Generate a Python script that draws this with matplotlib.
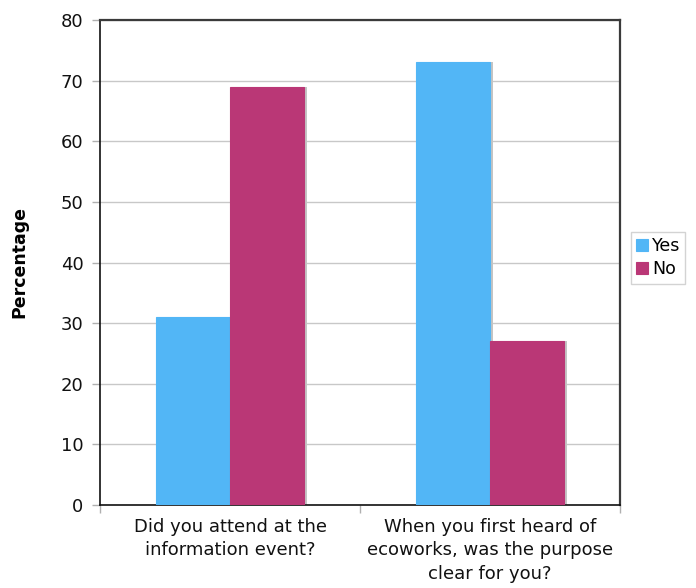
import matplotlib
matplotlib.use("Agg")
import matplotlib.pyplot as plt
import numpy as np
from matplotlib.patches import Rectangle
from matplotlib.transforms import offset_copy

categories = ["Did you attend at the\ninformation event?",
              "When you first heard of\necoworks, was the purpose\nclear for you?"]
series_names = ["Yes", "No"]
yes_values = [31, 73]
no_values = [69, 27]
y_ticks = [0, 10, 20, 30, 40, 50, 60, 70, 80]

colors = ["#52B6F6", "#BA3776"]

fig = plt.figure(figsize=(6.96, 5.88), dpi=100)
ax = fig.add_axes([100 / 696, 1 - 505 / 588, 520 / 696, 485 / 588])

x = np.arange(len(categories))
bw = 0.285
offsets = [-bw / 2, bw / 2]
handles = []
for vals, off, col, name in zip([yes_values, no_values], offsets, colors, series_names):
    # soft drop shadow to the right of each bar
    shadow_tr = offset_copy(ax.transData, fig=fig, x=3, y=0, units="dots")
    for xi, v in zip(x, vals):
        ax.add_patch(Rectangle((xi + off - bw / 2, 0), bw, v, transform=shadow_tr,
                               facecolor="#c4c4c4", edgecolor="none", zorder=2))
    b = ax.bar(x + off, vals, width=bw, color=col, edgecolor=col, linewidth=0.8,
               zorder=3, label=name)
    handles.append(b)

ax.set_xlim(-0.5, len(categories) - 0.5)
ax.set_ylim(0, 80)
ax.set_yticks(y_ticks)
ax.set_yticklabels([str(t) for t in y_ticks], fontsize=13, color="#111111")
ax.yaxis.grid(True, color="#c8c8c8", linewidth=1.0, zorder=0)
ax.set_axisbelow(True)

# category labels centred, separator ticks between categories
ax.set_xticks([-0.5, 0.5, 1.5])
ax.set_xticklabels([])
ax.set_xticks(x, minor=True)
ax.set_xticklabels(categories, minor=True, fontsize=13, color="#111111",
                   linespacing=1.4)
ax.tick_params(axis="x", which="minor", length=0, pad=9)
ax.tick_params(axis="x", which="major", length=6, color="#b0b0b0", width=1)
ax.tick_params(axis="y", length=6, color="#b0b0b0", width=1, pad=6)

for side in ["left", "bottom"]:
    ax.spines[side].set_color("#111111")
    ax.spines[side].set_linewidth(1.2)
for side in ["top", "right"]:
    ax.spines[side].set_color("#3a3a3a")
    ax.spines[side].set_linewidth(1.6)

ax.set_ylabel("Percentage", fontsize=12.5, fontweight="bold", labelpad=23)

leg = fig.legend(handles=handles, labels=series_names, loc="upper left",
                 bbox_to_anchor=(631 / 696, 1 - 232 / 588), fontsize=12.5,
                 frameon=True, fancybox=False, edgecolor="#c8c8c8",
                 handlelength=0.7, handleheight=0.7, handletextpad=0.2,
                 borderpad=0.3, labelspacing=0.3, borderaxespad=0)
leg.get_frame().set_linewidth(1.0)

fig.savefig("out.png", dpi=100)
